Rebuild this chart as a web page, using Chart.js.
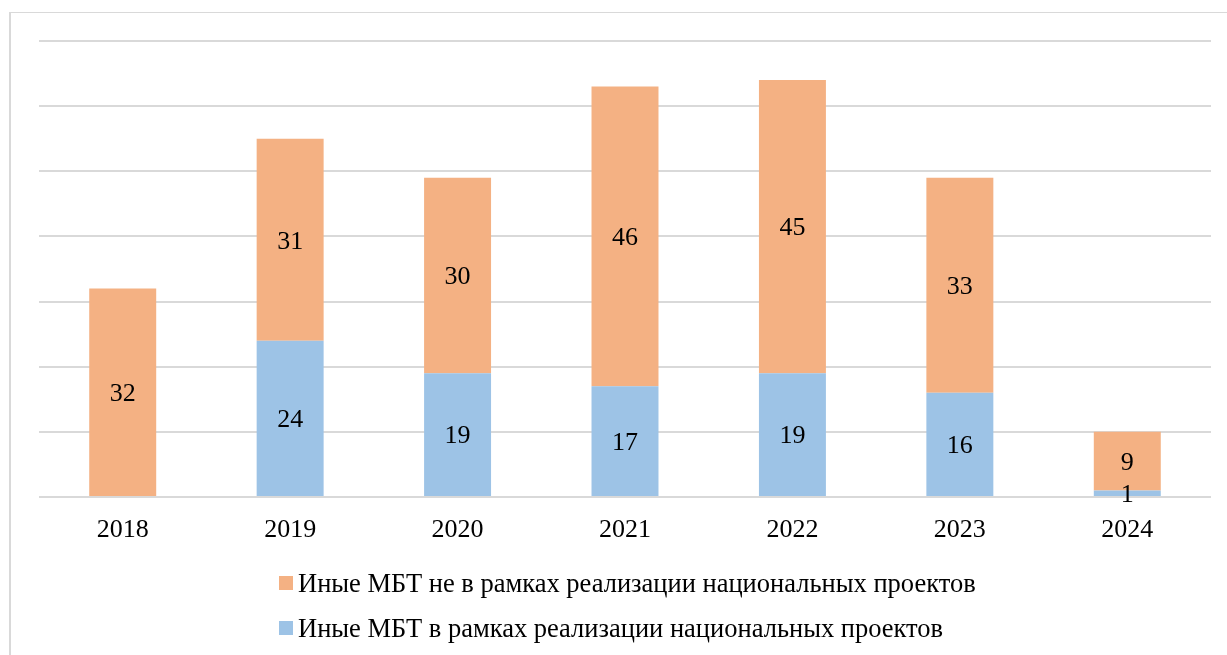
<!DOCTYPE html>
<html><head><meta charset="utf-8">
<script src="https://cdn.jsdelivr.net/npm/chart.js@4"></script>
<style>
html,body{margin:0;padding:0;background:#fff;}
#wrap{position:relative;width:1227px;height:655px;overflow:hidden;}
#frame{position:absolute;left:9px;top:12px;width:1300px;height:700px;border-left:2px solid #d9d9d9;border-top:1px solid #d9d9d9;}
#c{position:absolute;left:0;top:0;}
#legend{position:absolute;left:279px;top:568px;font-family:"Liberation Serif","Times New Roman",serif;font-size:26.5px;color:#000;}
.li{display:flex;align-items:center;height:30px;margin-bottom:15px;}
.sw{width:14px;height:14px;margin-right:5px;}
</style></head>
<body><div id="wrap"><div id="frame"></div><canvas id="c" width="1227" height="655"></canvas><div id="legend"></div></div>
<script>
const categories = ["2018","2019","2020","2021","2022","2023","2024"];
const inProjects = [0,24,19,17,19,16,1];
const notInProjects = [32,31,30,46,45,33,9];
const seriesNames = ["Иные МБТ в рамках реализации национальных проектов","Иные МБТ не в рамках реализации национальных проектов"];
const colors = ["#9DC3E6","#F4B183"];
const FONT = "'Liberation Serif','Times New Roman',serif";

const labelPlugin = {
  id:'barLabels',
  afterDatasetsDraw(chart){
    const ctx = chart.ctx;
    ctx.save();
    ctx.font = "26px " + FONT;
    ctx.fillStyle = "#000";
    ctx.textAlign = "center";
    ctx.textBaseline = "middle";
    chart.data.datasets.forEach((ds,i)=>{
      const meta = chart.getDatasetMeta(i);
      meta.data.forEach((bar,j)=>{
        const v = ds.data[j];
        if(!v) return;
        const p = bar.getProps(['x','y','base'],true);
        ctx.fillText(String(v), p.x, (p.y+p.base)/2 + 2);
      });
    });
    ctx.restore();
  }
};

const chart = new Chart(document.getElementById('c'), {
  type:'bar',
  data:{
    labels:categories,
    datasets:[
      {label:seriesNames[0], data:inProjects, backgroundColor:colors[0], borderWidth:0, barPercentage:0.4, categoryPercentage:1},
      {label:seriesNames[1], data:notInProjects, backgroundColor:colors[1], borderWidth:0, barPercentage:0.4, categoryPercentage:1}
    ]
  },
  options:{
    responsive:false, animation:false,
    layout:{padding:{left:0,right:16,top:41,bottom:0}},
    plugins:{legend:{display:false}, tooltip:{enabled:false}},
    scales:{
      x:{stacked:true,
         grid:{display:false}, border:{display:false},
         ticks:{color:"#000",font:{family:FONT,size:26},padding:10},
         afterFit(s){s.height=158;}
      },
      y:{stacked:true,min:0,max:70,
         ticks:{display:false,stepSize:10},
         grid:{color:"#d9d9d9",lineWidth:2,drawTicks:false},
         border:{display:false},
         afterFit(s){s.width=39;}
      }
    }
  },
  plugins:[labelPlugin]
});

const lg = document.getElementById('legend');
[1,0].forEach(i=>{
  const ds = chart.data.datasets[i];
  const row = document.createElement('div'); row.className='li';
  const sw = document.createElement('div'); sw.className='sw'; sw.style.background=ds.backgroundColor;
  const t = document.createElement('span'); t.textContent = ds.label;
  row.appendChild(sw); row.appendChild(t); lg.appendChild(row);
});
</script></body></html>
